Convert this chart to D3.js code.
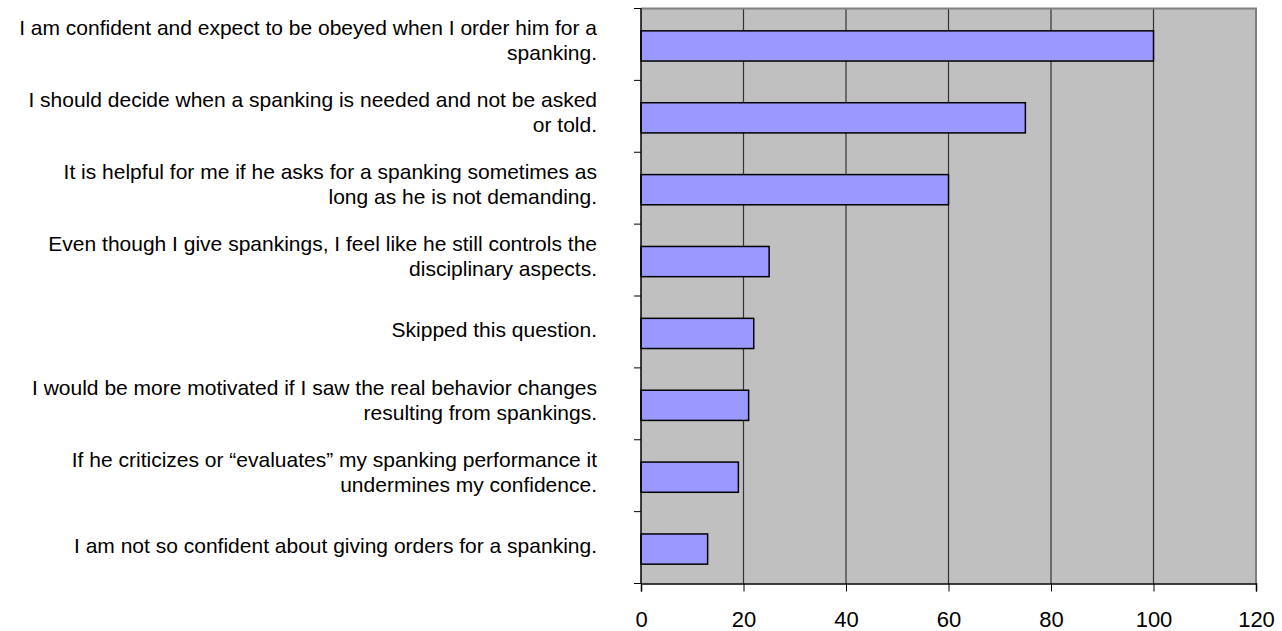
<!DOCTYPE html>
<html>
<head>
<meta charset="utf-8">
<script src="https://cdn.jsdelivr.net/npm/d3@7"></script>
<style>
  html, body { margin: 0; padding: 0; background: #fff; }
  svg { display: block; }
  text { font-family: "Liberation Sans", Arial, sans-serif; fill: #000; }
</style>
</head>
<body>
<svg id="chart" width="1282" height="631"></svg>
<script>
const categories = [
  ["I am confident and expect to be obeyed when I order him for a", "spanking."],
  ["I should decide when a spanking is needed and not be asked", "or told."],
  ["It is helpful for me if he asks for a spanking sometimes as", "long as he is not demanding."],
  ["Even though I give spankings, I feel like he still controls the", "disciplinary aspects."],
  ["Skipped this question."],
  ["I would be more motivated if I saw the real behavior changes", "resulting from spankings."],
  ["If he criticizes or \u201cevaluates\u201d my spanking performance it", "undermines my confidence."],
  ["I am not so confident about giving orders for a spanking."]
];
const values = [100, 75, 60, 25, 22, 21, 19, 13];
const xTicks = [0, 20, 40, 60, 80, 100, 120];

const svg = d3.select("#chart");
const pLeft = 641, pRight = 1256, pTop = 8.5, pBottom = 583.5;

const x = d3.scaleLinear().domain([0, 120]).range([pLeft, pRight]);
const idx = d3.range(categories.length);
const y = d3.scaleBand().domain(idx).range([pTop, pBottom]).paddingInner(0.58).paddingOuter(0.29);
const yOuter = d3.scaleBand().domain(idx).range([pTop, pBottom]);

// plot background
svg.append("rect")
  .attr("x", pLeft).attr("y", pTop)
  .attr("width", pRight - pLeft).attr("height", pBottom - pTop)
  .attr("fill", "#C0C0C0");

// gridlines
svg.append("g").selectAll("line")
  .data(xTicks.filter(d => d > 0 && d < 120))
  .join("line")
  .attr("x1", d => x(d)).attr("x2", d => x(d))
  .attr("y1", pTop).attr("y2", pBottom)
  .attr("stroke", "#333").attr("stroke-width", 1.2);

// border top/right
svg.append("path")
  .attr("d", `M${pLeft},${pTop}H${pRight}V${pBottom}`)
  .attr("fill", "none").attr("stroke", "#808080").attr("stroke-width", 2);

// bars
svg.append("g").selectAll("rect")
  .data(values)
  .join("rect")
  .attr("x", x(0))
  .attr("y", (d, i) => y(i) + 1.5)
  .attr("width", d => x(d) - x(0))
  .attr("height", y.bandwidth())
  .attr("fill", "#9999FF")
  .attr("stroke", "#000")
  .attr("stroke-width", 1.5);

// y axis line and ticks
const gy = svg.append("g");
gy.append("line").attr("x1", pLeft).attr("x2", pLeft).attr("y1", pTop).attr("y2", pBottom)
  .attr("stroke", "#000").attr("stroke-width", 1.5);
gy.selectAll("line.t")
  .data(d3.range(categories.length + 1))
  .join("line").attr("class", "t")
  .attr("x1", pLeft - 7).attr("x2", pLeft)
  .attr("y1", i => pTop + i * yOuter.step()).attr("y2", i => pTop + i * yOuter.step())
  .attr("stroke", "#000").attr("stroke-width", 1);

// x axis
const gx = svg.append("g").attr("transform", `translate(0,${pBottom})`)
  .call(d3.axisBottom(x).tickValues(xTicks).tickSize(8).tickPadding(20).tickFormat(d3.format("d")));
gx.select(".domain").attr("stroke", "#000").attr("stroke-width", 1.5);
gx.selectAll(".tick line").attr("stroke", "#000");
gx.selectAll("text").style("font-size", "22px").attr("fill", "#000")
  .style("font-family", '"Liberation Sans", Arial, sans-serif');

// category labels
const lineH = 25;
const lab = svg.append("g").selectAll("text")
  .data(categories)
  .join("text")
  .attr("text-anchor", "end")
  .style("font-size", "21px")
  .attr("y", (d, i) => yOuter(i) + yOuter.bandwidth() / 2 - 2 - (d.length - 1) * (lineH / 2 + 2));
lab.selectAll("tspan")
  .data(d => d)
  .join("tspan")
  .attr("x", 597)
  .attr("dy", (d, j) => j === 0 ? "0.35em" : lineH)
  .text(d => d);
</script>
</body>
</html>
